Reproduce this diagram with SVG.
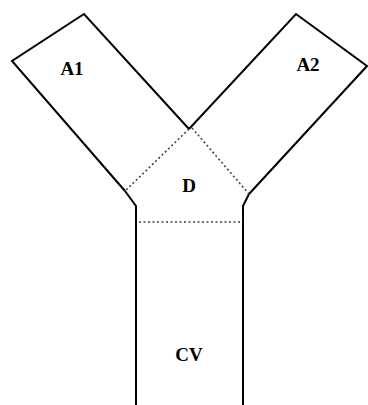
<svg xmlns="http://www.w3.org/2000/svg" width="368" height="405" viewBox="0 0 368 405">
<style>
.solid{fill:none;stroke:#000;stroke-width:2;stroke-linejoin:miter}
.dot{fill:none;stroke:#444;stroke-width:1.6;stroke-dasharray:2 2.5}
.lbl{font-family:"Liberation Serif",serif;font-weight:bold;font-size:19px;text-anchor:middle;fill:#000}
</style>
<rect width="368" height="405" fill="#fff"/>
<g id="A1">
<polyline class="solid" points="125,191 12,61 84,14 189,129"/>
<text class="lbl" x="72" y="75">A1</text>
</g>
<g id="A2">
<polyline class="solid" points="189,129 296,14 367,66 249,194"/>
<text class="lbl" x="308" y="71">A2</text>
</g>
<g id="D">
<text class="lbl" x="189" y="192">D</text>
</g>
<g id="CV">
<polyline class="solid" points="125,191 136,206 136,405"/>
<polyline class="solid" points="249,194 243,206 243,405"/>
<text class="lbl" x="189" y="361">CV</text>
</g>
<g id="connectors">
<line class="dot" x1="189" y1="129" x2="125" y2="191"/>
<line class="dot" x1="192" y1="128" x2="249" y2="194"/>
<line class="dot" x1="139" y1="222" x2="243" y2="222"/>
</g>
</svg>
